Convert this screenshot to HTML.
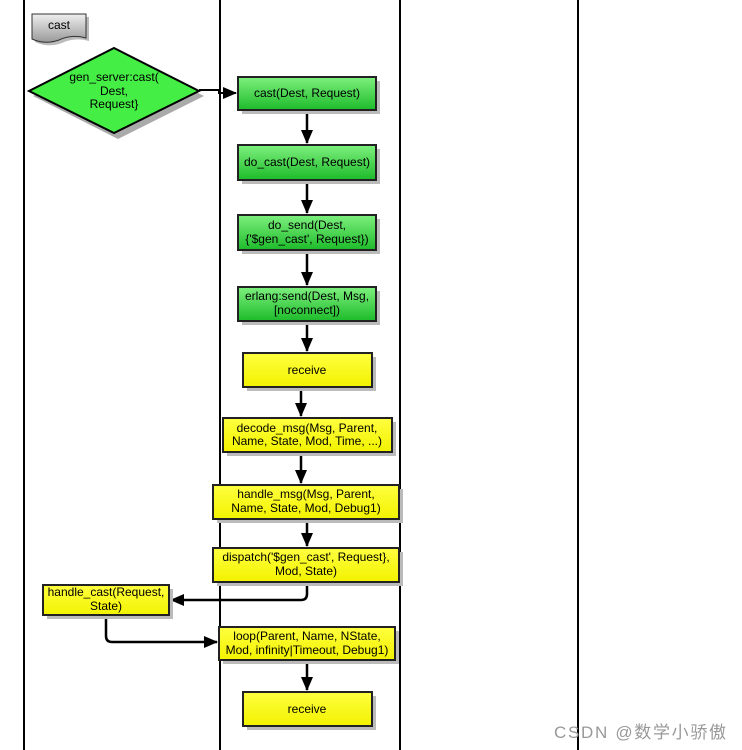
<!DOCTYPE html>
<html><head><meta charset="utf-8"><style>
html,body{margin:0;padding:0;background:#fff;}
svg{display:block;font-family:"Liberation Sans",sans-serif;}
</style></head><body>
<svg width="742" height="750" viewBox="0 0 742 750" xmlns="http://www.w3.org/2000/svg">
<defs>
<linearGradient id="g" x1="0" y1="0" x2="0" y2="1"><stop offset="0" stop-color="#7ef07e"/><stop offset="1" stop-color="#1dbb2a"/></linearGradient>
<linearGradient id="y" x1="0" y1="0" x2="0" y2="1"><stop offset="0" stop-color="#ffff40"/><stop offset="1" stop-color="#f2f200"/></linearGradient>
<linearGradient id="gr" x1="0" y1="0" x2="0" y2="1"><stop offset="0" stop-color="#eee"/><stop offset="1" stop-color="#999"/></linearGradient>
<marker id="d" viewBox="0 0 14 12" markerWidth="14" markerHeight="12" refX="13" refY="6" orient="auto" markerUnits="userSpaceOnUse"><path d="M0,0 L14,6 L0,12 z" fill="#000"/></marker>
</defs>
<g stroke="#000" stroke-width="2">
<line x1="24" y1="0" x2="24" y2="750"/><line x1="220" y1="0" x2="220" y2="750"/>
<line x1="400" y1="0" x2="400" y2="750"/><line x1="578" y1="0" x2="578" y2="750"/>
</g>
<path d="M35,17 h54 v24 q-14,-4 -27,2 q-14,5 -27,-1 z" fill="#bbb"/>
<path d="M32,14 h54 v24 q-14,-4 -27,2 q-14,5 -27,-1 z" fill="url(#gr)" stroke="#333" stroke-width="1"/>
<text x="59" y="29" font-size="12" text-anchor="middle">cast</text>
<polygon points="118,53 204,96 118,139 33,96" fill="#aaa"/>
<polygon points="114,48 199,91 114,133 29,91" fill="#44ee44" stroke="#000" stroke-width="2"/>
<g font-size="12" text-anchor="middle"><text x="114" y="81">gen_server:cast(</text><text x="114" y="95">Dest,</text><text x="114" y="108">Request}</text></g>
<path d="M199,90 H219 V93 H236" fill="none" stroke="#000" stroke-width="2" marker-end="url(#d)"/>
<g stroke="#000" stroke-width="2.5" fill="none">
<line x1="307" y1="111" x2="307" y2="143" marker-end="url(#d)"/>
<line x1="307" y1="181" x2="307" y2="213" marker-end="url(#d)"/>
<line x1="307" y1="251" x2="307" y2="285" marker-end="url(#d)"/>
<line x1="307" y1="322" x2="307" y2="351" marker-end="url(#d)"/>
<line x1="301" y1="388" x2="301" y2="416" marker-end="url(#d)"/>
<line x1="301" y1="453" x2="301" y2="483" marker-end="url(#d)"/>
<line x1="307" y1="520" x2="307" y2="546" marker-end="url(#d)"/>
<path d="M307,583 V594 Q307,600 301,600 H171" marker-end="url(#d)"/>
<path d="M106,616 V636 Q106,642 112,642 H217" marker-end="url(#d)"/>
<line x1="307" y1="661" x2="307" y2="690" marker-end="url(#d)"/>
</g>
<g stroke="#222" stroke-width="2">
<rect x="242" y="81" width="138" height="33" fill="#bbb" stroke="none"/><rect x="238" y="77" width="138" height="33" fill="url(#g)"/>
<rect x="242" y="149" width="138" height="35" fill="#bbb" stroke="none"/><rect x="238" y="145" width="138" height="35" fill="url(#g)"/>
<rect x="242" y="219" width="138" height="35" fill="#bbb" stroke="none"/><rect x="238" y="215" width="138" height="35" fill="url(#g)"/>
<rect x="242" y="291" width="138" height="34" fill="#bbb" stroke="none"/><rect x="238" y="287" width="138" height="34" fill="url(#g)"/>
<rect x="247" y="357" width="129" height="34" fill="#bbb" stroke="none"/><rect x="243" y="353" width="129" height="34" fill="url(#y)"/>
<rect x="227" y="422" width="169" height="34" fill="#bbb" stroke="none"/><rect x="223" y="418" width="169" height="34" fill="url(#y)"/>
<rect x="217" y="489" width="186" height="34" fill="#bbb" stroke="none"/><rect x="213" y="485" width="186" height="34" fill="url(#y)"/>
<rect x="217" y="552" width="186" height="34" fill="#bbb" stroke="none"/><rect x="213" y="548" width="186" height="34" fill="url(#y)"/>
<rect x="47" y="589" width="126" height="30" fill="#bbb" stroke="none"/><rect x="43" y="585" width="126" height="30" fill="url(#y)"/>
<rect x="223" y="631" width="176" height="33" fill="#bbb" stroke="none"/><rect x="219" y="627" width="176" height="33" fill="url(#y)"/>
<rect x="247" y="696" width="129" height="34" fill="#bbb" stroke="none"/><rect x="243" y="692" width="129" height="34" fill="url(#y)"/>
</g>
<g font-size="12" text-anchor="middle" fill="#000">
<text x="307" y="97">cast(Dest, Request)</text>
<text x="307" y="166">do_cast(Dest, Request)</text>
<text x="307" y="229">do_send(Dest,</text><text x="307" y="243">{'$gen_cast', Request})</text>
<text x="307" y="300">erlang:send(Dest, Msg,</text><text x="307" y="314">[noconnect])</text>
<text x="307" y="374">receive</text>
<text x="307" y="432">decode_msg(Msg, Parent,</text><text x="307" y="445">Name, State, Mod, Time, ...)</text>
<text x="306" y="498">handle_msg(Msg, Parent,</text><text x="306" y="512">Name, State, Mod, Debug1)</text>
<text x="306" y="561">dispatch('$gen_cast', Request},</text><text x="306" y="575">Mod, State)</text>
<text x="106" y="596">handle_cast(Request,</text><text x="106" y="610">State)</text>
<text x="307" y="640">loop(Parent, Name, NState,</text><text x="307" y="654">Mod, infinity|Timeout, Debug1)</text>
<text x="307" y="713">receive</text>
</g>
<text x="554" y="738" font-size="17" fill="#999" textLength="172" font-family="Liberation Sans, Noto Sans CJK SC, sans-serif">CSDN @数学小骄傲</text>
</svg>
</body></html>
